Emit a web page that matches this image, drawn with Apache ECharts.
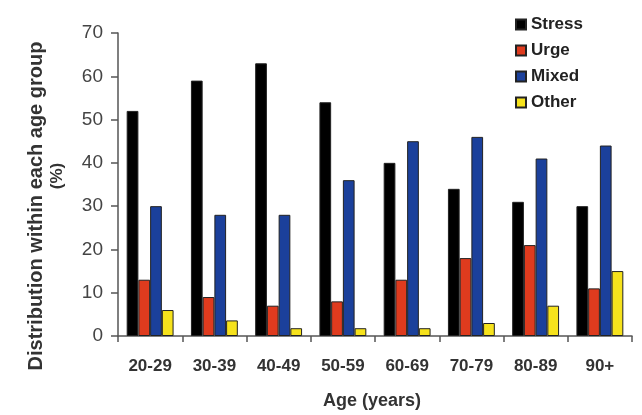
<!DOCTYPE html>
<html><head><meta charset="utf-8">
<script src="https://cdn.jsdelivr.net/npm/echarts@6/dist/echarts.min.js"></script>
<style>html,body{margin:0;padding:0;background:#fff}#c{width:642px;height:415px}</style>
</head><body><div id="c"></div>
<script>
const categories = ["20-29","30-39","40-49","50-59","60-69","70-79","80-89","90+"];
const stress = [52, 59, 63, 54, 40, 34, 31, 30];
const urge   = [13, 9, 7, 8, 13, 18, 21, 11];
const mixed  = [30, 28, 28, 36, 45, 46, 41, 44];
const other  = [6, 3.6, 1.8, 1.8, 1.8, 3, 7, 15];
const seriesNames = ["Stress","Urge","Mixed","Other"];
const colors = ["#000000","#df3b1e","#1b409b","#f6e21c"];

const font = "Liberation Sans, Arial, Helvetica, sans-serif";
const chart = echarts.init(document.getElementById('c'), null, {renderer:'canvas'});
const vals = [stress, urge, mixed, other];
chart.setOption({
  animation:false,
  backgroundColor:'#fff',
  textStyle:{fontFamily:font},
  grid:{left:118, right:10, top:33, bottom:78},
  legend:{
    orient:'vertical', left:510, top:11,
    itemWidth:10, itemHeight:10, itemGap:9,
    icon:'rect',
    textStyle:{fontFamily:font, fontSize:17, fontWeight:'bold', color:'#222'},
    data:seriesNames
  },
  xAxis:{
    type:'category', data:categories,
    axisLine:{lineStyle:{color:'#555', width:1.5}},
    axisTick:{show:true, length:6, lineStyle:{color:'#555', width:1.5}},
    axisLabel:{fontFamily:font, fontSize:17, fontWeight:'bold', color:'#333', margin:22},
    name:'Age (years)', nameLocation:'middle', nameGap:56,
    nameTextStyle:{fontFamily:font, fontSize:18, fontWeight:'bold', color:'#333', padding:[0,6,0,0]}
  },
  yAxis:{
    type:'value', min:0, max:70, interval:10,
    axisLine:{show:true, lineStyle:{color:'#555', width:1.5}},
    axisTick:{show:true, length:7, lineStyle:{color:'#555', width:1.5}},
    splitLine:{show:false},
    axisLabel:{fontFamily:font, fontSize:19, color:'#444', margin:15}
  },
  graphic:[{
    type:'text', x:36, y:206, rotation:Math.PI/2,
    style:{text:'Distribution within each age group', font:'bold 20px '+font, fill:'#333',
           textAlign:'center', textVerticalAlign:'middle'}
  },{
    type:'text', x:57, y:176, rotation:Math.PI/2,
    style:{text:'(%)', font:'bold 17px '+font, fill:'#333',
           textAlign:'center', textVerticalAlign:'middle'}
  }],
  series: seriesNames.map((n,i)=>({
    name:n, type:'bar', data:vals[i],
    barGap:'0%', barCategoryGap:'27%',
    itemStyle:{color:colors[i], borderColor:'#222', borderWidth:1}
  }))
});
</script></body></html>
